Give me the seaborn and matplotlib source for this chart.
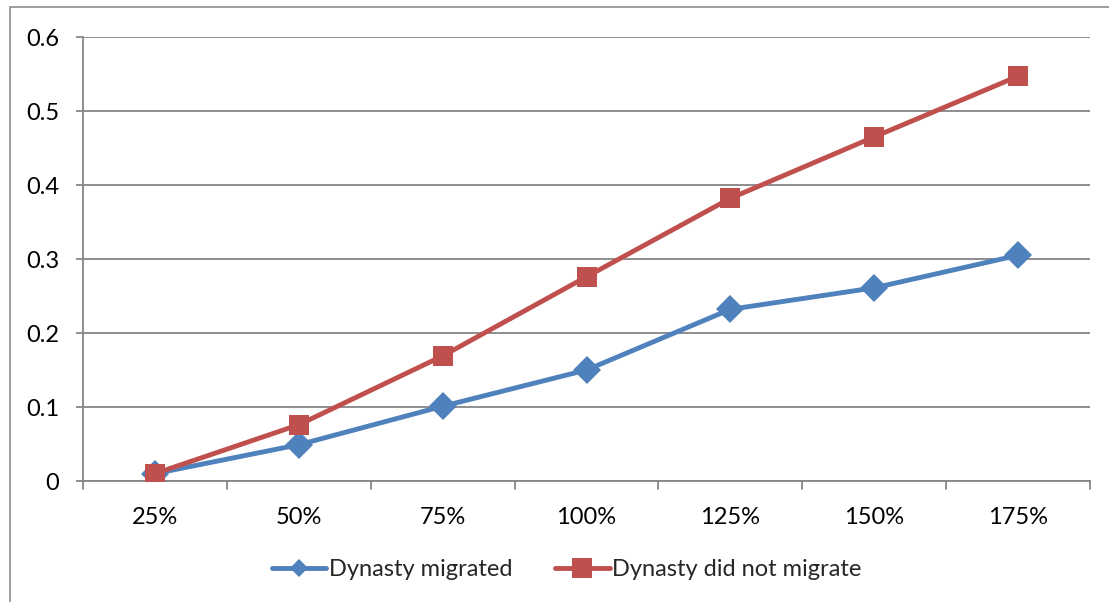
import matplotlib
matplotlib.use("Agg")
import matplotlib.pyplot as plt
import seaborn as sns
import pandas as pd
from matplotlib.patches import Rectangle

categories = ["25%", "50%", "75%", "100%", "125%", "150%", "175%"]
migrated = [0.010, 0.049, 0.101, 0.150, 0.232, 0.261, 0.305]
not_migrated = [0.010, 0.076, 0.169, 0.276, 0.382, 0.465, 0.547]
series_names = ["Dynasty migrated", "Dynasty did not migrate"]
y_ticks = [0, 0.1, 0.2, 0.3, 0.4, 0.5, 0.6]
y_labels = ["0", "0.1", "0.2", "0.3", "0.4", "0.5", "0.6"]

sns.set_theme(style="white")
plt.rcParams["font.family"] = ["Lato", "DejaVu Sans"]

df = pd.DataFrame({
    "pos": list(range(len(categories))) * 2,
    "value": migrated + not_migrated,
    "series": [series_names[0]] * len(categories) + [series_names[1]] * len(categories),
})

blue = "#4F81BD"
red = "#C0504D"
grid_c = "#868686"
fs = 17

fig = plt.figure(figsize=(11.09, 6.02), dpi=100)
ax = fig.add_axes([83 / 1109, 1 - 481 / 602, (1090 - 83) / 1109, (481 - 37) / 602])

# chart frame
fig.patches.append(Rectangle((10 / 1109, -0.05), 1.2, 1 - 7 / 602 + 0.05,
                             transform=fig.transFigure, fill=False,
                             edgecolor="#8C8C8C", linewidth=1.2, zorder=0))

sns.lineplot(data=df, x="pos", y="value", hue="series", style="series",
             markers={series_names[0]: "D", series_names[1]: "s"},
             dashes=False, palette={series_names[0]: blue, series_names[1]: red},
             linewidth=3.5, ax=ax, zorder=3)
for line in ax.get_lines():
    if line.get_label() == series_names[0]:
        line.set_markersize(9.5)
    else:
        line.set_markersize(14)
    line.set_markeredgewidth(0)

ax.set_xlim(-0.5, len(categories) - 0.5)
ax.set_ylim(0, 0.6)
ax.set_yticks(y_ticks)
ax.set_yticklabels(y_labels)
ax.set_xticks(range(len(categories)))
ax.set_xticklabels(categories)
ax.tick_params(axis="x", length=0, pad=19, labelsize=fs, colors="black")
ax.tick_params(axis="y", length=5, width=1.3, color=grid_c, pad=12, labelsize=fs,
               left=True, labelcolor="black")
# category boundary tick marks
for b in [i - 0.5 for i in range(len(categories) + 1)]:
    ax.plot([b, b], [0, -0.011], color=grid_c, lw=1.3, clip_on=False, zorder=2)

ax.yaxis.grid(True, color=grid_c, linewidth=1.3)
ax.set_axisbelow(True)
for side in ["top", "right"]:
    ax.spines[side].set_visible(False)
for side in ["left", "bottom"]:
    ax.spines[side].set_color(grid_c)
    ax.spines[side].set_linewidth(1.3)
ax.set_xlabel("")
ax.set_ylabel("")

handles, labels = ax.get_legend_handles_labels()
ax.legend(handles, labels, loc="center", bbox_to_anchor=(567 / 1109, (602 - 570) / 602),
          bbox_transform=fig.transFigure, ncol=2, frameon=False, fontsize=fs,
          handlelength=2.3, handletextpad=0.12, columnspacing=1.8)

fig.savefig("out.png", dpi=100)
